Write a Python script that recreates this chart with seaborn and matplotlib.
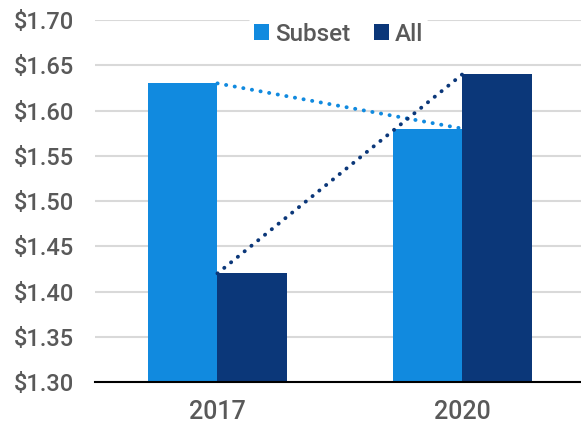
import matplotlib
matplotlib.use("Agg")
import matplotlib.pyplot as plt
import seaborn as sns
import pandas as pd

years = ["2017", "2020"]
series = ["Subset", "All"]
subset_values = [1.63, 1.58]
all_values = [1.42, 1.64]
y_ticks = [1.30, 1.35, 1.40, 1.45, 1.50, 1.55, 1.60, 1.65, 1.70]

colors = {"Subset": "#118ADF", "All": "#0B3779"}
text_color = "#595959"

df = pd.DataFrame({
    "year": years * 2,
    "series": ["Subset"] * 2 + ["All"] * 2,
    "value": subset_values + all_values,
})

sns.set_style("white")
plt.rcParams["font.family"] = ["Roboto", "DejaVu Sans"]
plt.rcParams["font.weight"] = "medium"

fig = plt.figure(figsize=(5.81, 4.26), dpi=100)
ax = fig.add_axes([0.1635, 0.1033, 0.843, 0.8497])

sns.barplot(data=df, x="year", y="value", hue="series", order=years,
            hue_order=series, palette=colors, width=0.565, saturation=1,
            linewidth=0, ax=ax, zorder=2)

# dotted trend lines joining each series across the two years
pos = list(range(len(years)))
dot_style = (0, (0.05, 2.2))
ax.plot(pos, subset_values, linestyle=dot_style, linewidth=2.8,
        color=colors["Subset"], dash_capstyle="round", zorder=4)
ax.plot(pos, all_values, linestyle=dot_style, linewidth=2.8,
        color=colors["All"], dash_capstyle="round", zorder=4)

ax.set_ylim(1.30, 1.70)
ax.set_xlim(-0.5, 1.5)
ax.set_yticks(y_ticks)
ax.set_yticklabels([f"${v:.2f}" for v in y_ticks])
ax.yaxis.grid(True, color="#D9D9D9", linewidth=1.5, zorder=0)
ax.set_axisbelow(True)

# category boundary ticks, labels centred on the groups
ax.set_xticks([-0.5, 0.5, 1.5])
ax.set_xticklabels([])
ax.set_xticks(pos, minor=True)
ax.set_xticklabels(years, minor=True)
ax.tick_params(axis="x", which="major", length=7, width=1.5, color="black",
               direction="out")
ax.tick_params(axis="x", which="minor", length=0, pad=13, labelsize=18,
               labelcolor=text_color)
ax.tick_params(axis="y", length=0, pad=15, labelsize=17, labelcolor=text_color)

ax.set_xlabel("")
ax.set_ylabel("")
for side in ["left", "right", "top"]:
    ax.spines[side].set_visible(False)
ax.spines["bottom"].set_color("black")
ax.spines["bottom"].set_linewidth(1.5)
ax.spines["bottom"].set_zorder(5)

leg = ax.legend(loc="upper center", bbox_to_anchor=(0.498, 1.04), ncol=2,
                frameon=True, fontsize=17.5, handlelength=0.6,
                handleheight=0.6, handletextpad=0.25, columnspacing=1.0,
                borderpad=0.2, labelcolor=text_color)
leg.get_frame().set_facecolor("white")
leg.get_frame().set_edgecolor("none")
leg.get_frame().set_alpha(1)

fig.savefig("out.png", dpi=100)
